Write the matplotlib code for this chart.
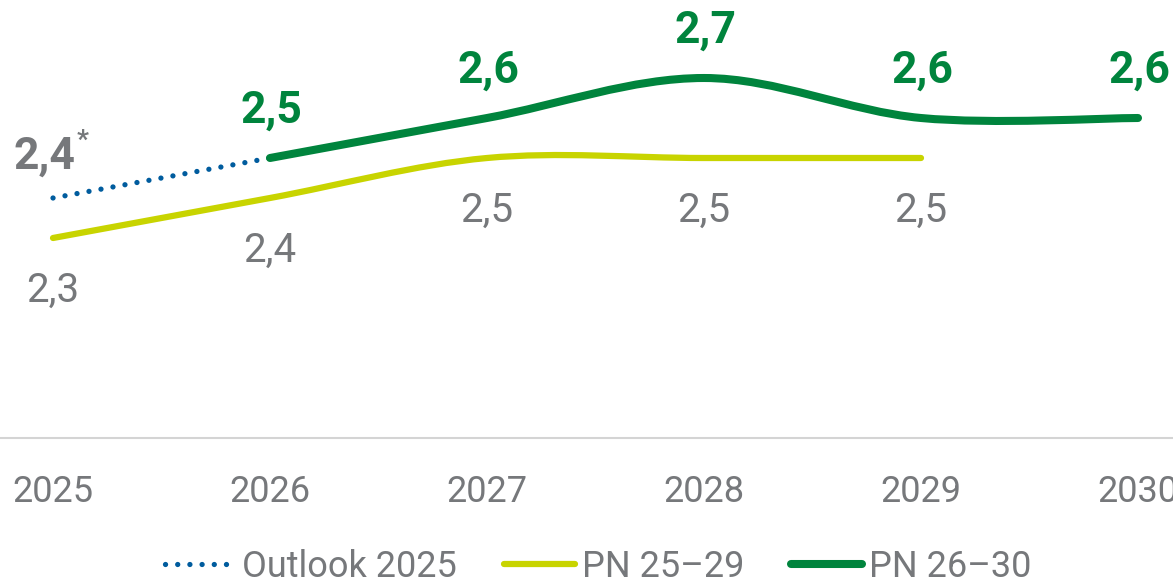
import matplotlib.pyplot as plt
import numpy as np
from matplotlib.path import Path
from matplotlib.patches import PathPatch
from matplotlib.lines import Line2D

plt.rcParams['font.family'] = ['Roboto', 'DejaVu Sans']

years = [2025, 2026, 2027, 2028, 2029, 2030]
outlook_years = [2025, 2026]
outlook_vals = [2.4, 2.5]
pn2529_years = [2025, 2026, 2027, 2028, 2029]
pn2529_vals = [2.3, 2.4, 2.5, 2.5, 2.5]
pn2630_years = [2026, 2027, 2028, 2029, 2030]
pn2630_vals = [2.5, 2.6, 2.7, 2.6, 2.6]

grey = '#76787b'
dark_green = '#00843d'
light_green = '#c8d400'
blue = '#005c9e'


def smooth_path(xs, ys):
    # catmull-rom style bezier, like a spreadsheet "smoothed line"
    pts = np.column_stack([xs, ys]).astype(float)
    verts = [pts[0]]
    codes = [Path.MOVETO]
    n = len(pts)
    for i in range(n - 1):
        p0 = pts[i - 1] if i > 0 else pts[i]
        p1 = pts[i]
        p2 = pts[i + 1]
        p3 = pts[i + 2] if i + 2 < n else pts[i + 1]
        c1 = p1 + (p2 - p0) / 6
        c2 = p2 - (p3 - p1) / 6
        verts += [c1, c2, p2]
        codes += [Path.CURVE4] * 3
    return Path(verts, codes)


fig = plt.figure(figsize=(11.73, 5.86), dpi=100)
ax = fig.add_axes([0, 148 / 586, 1, 438 / 586])
ax.set_xlim(2025 - 53 / 217, 2025 - 53 / 217 + 1173 / 217)
ax.set_ylim(1.8, 2.5 + 158 / 400)

dots = (0, (0.01, 2.3))
ax.plot(outlook_years, outlook_vals, color=blue, lw=3.8,
        linestyle=dots, dash_capstyle='round', zorder=2)
ax.add_patch(PathPatch(smooth_path(pn2529_years, pn2529_vals), fill=False,
                       edgecolor=light_green, lw=4.5, capstyle='round', zorder=3))
ax.add_patch(PathPatch(smooth_path(pn2630_years, pn2630_vals), fill=False,
                       edgecolor=dark_green, lw=5.8, capstyle='round', zorder=4))

# labels
for x, y in zip(pn2529_years, pn2529_vals):
    ax.annotate(f'{y:.1f}'.replace('.', ','), (x, y), xytext=(0, -38),
                textcoords='offset points', ha='center', va='center',
                fontsize=29, color=grey)
for x, y in zip(pn2630_years, pn2630_vals):
    ax.annotate(f'{y:.1f}'.replace('.', ','), (x, y), xytext=(1, 34),
                textcoords='offset points', ha='center', va='center',
                fontsize=32, color=dark_green, fontweight='bold',
                annotation_clip=False)
ax.annotate(f'{outlook_vals[0]:.1f}'.replace('.', ','), (outlook_years[0], outlook_vals[0]),
            xytext=(-6, 30), textcoords='offset points', ha='center', va='center',
            fontsize=32, color=grey, fontweight='bold')
ax.annotate('*', (outlook_years[0], outlook_vals[0]), xytext=(21, 41),
            textcoords='offset points', ha='center', va='center',
            fontsize=19, color=grey, fontweight='bold')

for s in ['top', 'left', 'right']:
    ax.spines[s].set_visible(False)
ax.spines['bottom'].set_color('#d4d4d4')
ax.spines['bottom'].set_linewidth(1.5)
ax.set_yticks([])
ax.set_xticks(years)
ax.set_xticklabels([str(y) for y in years], fontsize=26, color=grey)
ax.tick_params(axis='x', length=0, pad=26)

handles = [
    Line2D([], [], color=blue, lw=3.8, linestyle=dots, dash_capstyle='round'),
    Line2D([], [], color=light_green, lw=4.5, solid_capstyle='round'),
    Line2D([], [], color=dark_green, lw=5.8, solid_capstyle='round'),
]
fig.legend(handles, ['Outlook 2025', 'PN 25–29', 'PN 26–30'], loc='center',
           bbox_to_anchor=(598 / 1173, 19 / 586), ncol=3, frameon=False,
           fontsize=26, labelcolor=grey, handlelength=1.95, handletextpad=0.2,
           columnspacing=1.3, borderpad=0)

fig.savefig('out.png', dpi=100)
